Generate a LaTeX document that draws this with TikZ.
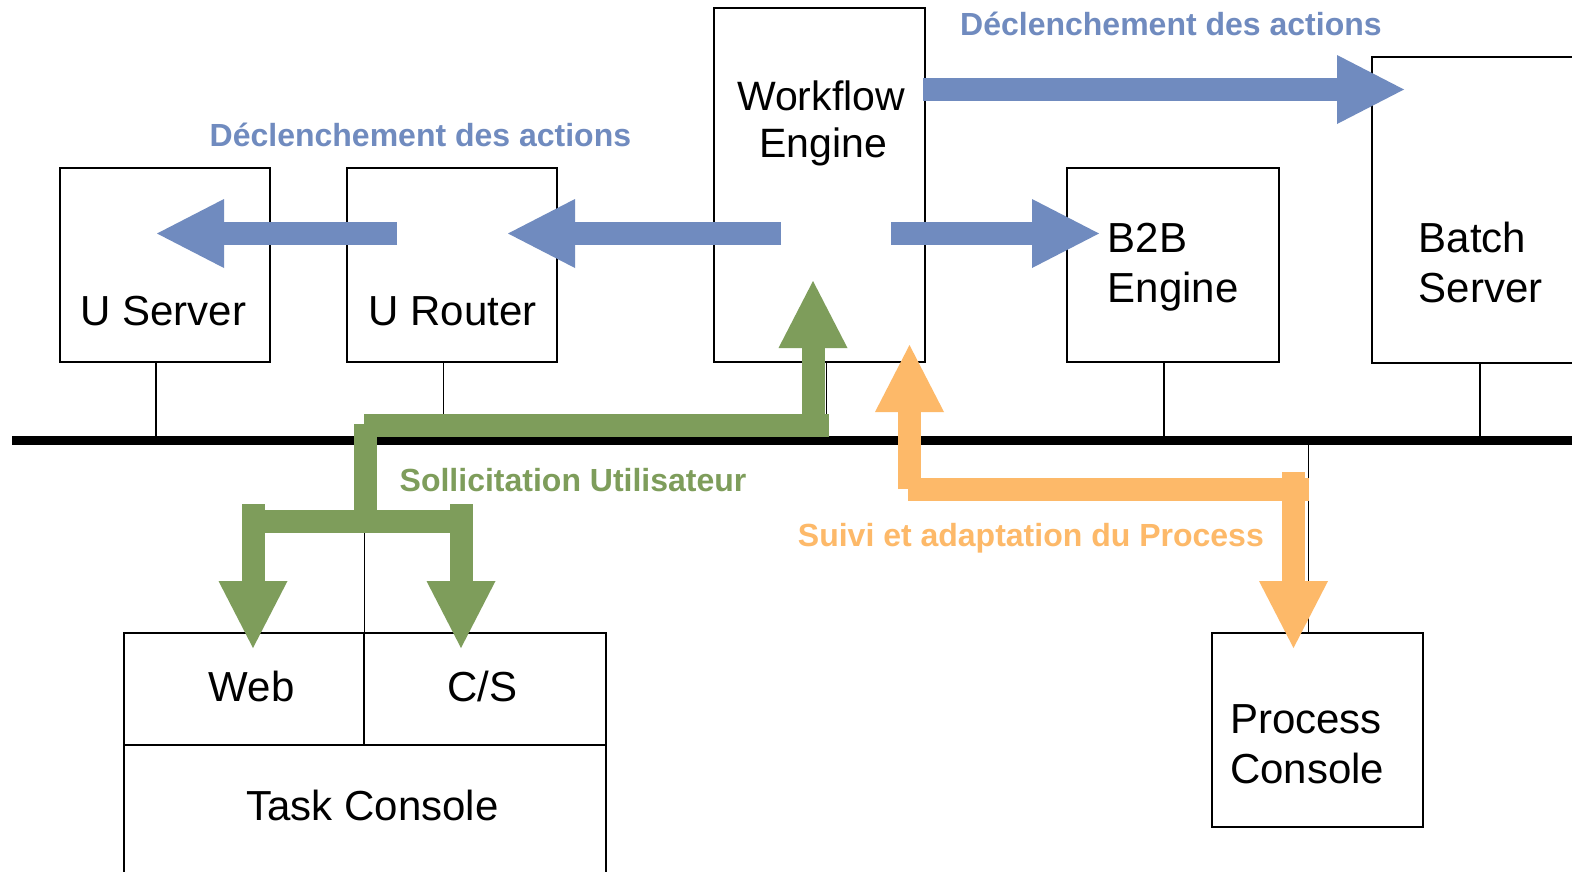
\documentclass[tikz,border=0pt]{standalone}
\usepackage{fontspec}
\setmainfont{Liberation Sans}
\usetikzlibrary{arrows.meta}
\definecolor{cblue}{RGB}{112,139,191}
\definecolor{cgreen}{RGB}{126,157,91}
\definecolor{corange}{RGB}{253,185,105}
\begin{document}
\begin{tikzpicture}[x=1pt,y=-1pt,
  box/.style={draw=black, line width=2pt, fill=white, inner sep=0pt, outer sep=0pt, anchor=north west},
  txt/.style={inner sep=0pt, anchor=base, font=\fontsize{42}{50}\selectfont},
  txtl/.style={inner sep=0pt, anchor=base west, font=\fontsize{42}{50}\selectfont},
  wtxt/.style={inner sep=0pt, anchor=base, font=\fontsize{41}{48}\selectfont},
  lbl/.style={inner sep=0pt, anchor=base west, font=\bfseries\fontsize{32}{38}\selectfont},
  conn/.style={draw=black, line width=1.5pt},
  bus/.style={draw=black, line width=9pt},
  shaft/.style={line width=23pt},
  blk/.style={line width=23pt, -{Triangle[length=67pt,width=69pt,line width=0pt]}},
]
\useasboundingbox (0,0) rectangle (1572,871);
\clip (0,0) rectangle (1572,871);
\fill[white] (0,0) rectangle (1572,871);

% bus
\coordinate (busL) at (12,440.5);
\coordinate (busR) at (1572,440.5);
\draw[bus] (busL) -- (busR);

% boxes
\node[box, minimum width=210pt, minimum height=194pt] (userver) at (60,168) {};
\node[box, minimum width=210pt, minimum height=194pt] (urouter) at (347,168) {};
\node[box, minimum width=211pt, minimum height=354pt] (wf) at (714,8) {};
\node[box, minimum width=211.5pt, minimum height=194pt] (b2b) at (1067,168) {};
\node[box, minimum width=260pt, minimum height=306pt] (batch) at (1372,56.5) {};
\node[box, minimum width=240.3pt, minimum height=112.3pt] (web) at (124,632.7) {};
\node[box, minimum width=241.4pt, minimum height=112.3pt] (cs) at (364.3,632.7) {};
\node[box, minimum width=481.7pt, minimum height=140pt] (task) at (124,745) {};
\node[box, minimum width=210.4pt, minimum height=194pt] (proc) at (1212.3,632.7) {};

% connectors to bus
\draw[conn] ([xshift=-9pt]userver.south) -- ++(0,78);
\draw[conn] ([xshift=-8.5pt]urouter.south) -- ++(0,78);
\draw[conn] ([xshift=7pt]wf.south) -- ++(0,78);
\draw[conn] ([xshift=-8.75pt]b2b.south) -- ++(0,78);
\draw[conn] ([xshift=-22pt]batch.south) -- ++(0,78);
\draw[conn] (web.north east) -- ++(0,-192);
\draw[conn] ([xshift=-9.2pt]proc.north) -- ++(0,-192);

% texts
\node[txt] (userverT) at (163.5,325.5) {U Server};
\node[txt] (urouterT) at (452.5,325.5) {U Router};
\node[wtxt] (wfT1) at (821,110) {Workflow};
\node[wtxt] (wfT2) at (823,157.5) {Engine};
\node[txtl] (b2bT1) at (1107.5,252.5) {B2B};
\node[txtl] (b2bT2) at (1107.5,302) {Engine};
\node[txtl] (batchT1) at (1418.5,252.5) {Batch};
\node[txtl] (batchT2) at (1418.5,302) {Server};
\node[txtl] (procT1) at (1230,733.3) {Process};
\node[txtl] (procT2) at (1230,783.3) {Console};
\node[txt] (webT) at (251.7,701) {Web};
\node[txt] (csT) at (482.5,701) {C/S};
\node[txt] (taskT) at (372.5,820) {Task Console};

% blue arrows
\draw[blk, cblue] (923,89.5) -- (1404,89.5);
\draw[blk, cblue] (891,233.5) -- (1099,233.5);
\draw[blk, cblue] (781,233.5) -- (508,233.5);
\draw[blk, cblue] (397,233.5) -- (157,233.5);

% green arrows
\draw[shaft, cgreen] (364,425.5) -- (829,425.5);
\draw[blk, cgreen] (813,425) -- (813,281);
\draw[shaft, cgreen] (365,424) -- (365,532);
\draw[shaft, cgreen] (242,521.5) -- (473,521.5);
\draw[blk, cgreen] (253,504) -- (253,648);
\draw[blk, cgreen] (461,504) -- (461,648);

% orange arrows
\draw[blk, corange] (909.5,489) -- (909.5,345);
\draw[shaft, corange] (908,489.5) -- (1309,489.5);
\draw[blk, corange] (1293.5,472) -- (1293.5,648);

% labels
\node[lbl, text=cblue] (lblTop) at (960,35) {Déclenchement des actions};
\node[lbl, text=cblue] (lblLeft) at (209.5,146) {Déclenchement des actions};
\node[lbl, text=cgreen] (lblGreen) at (399.5,491.7) {Sollicitation Utilisateur};
\node[lbl, text=corange, anchor=base east] (lblOrange) at (1264,546.5) {Suivi et adaptation du Process};
\end{tikzpicture}
\end{document}
